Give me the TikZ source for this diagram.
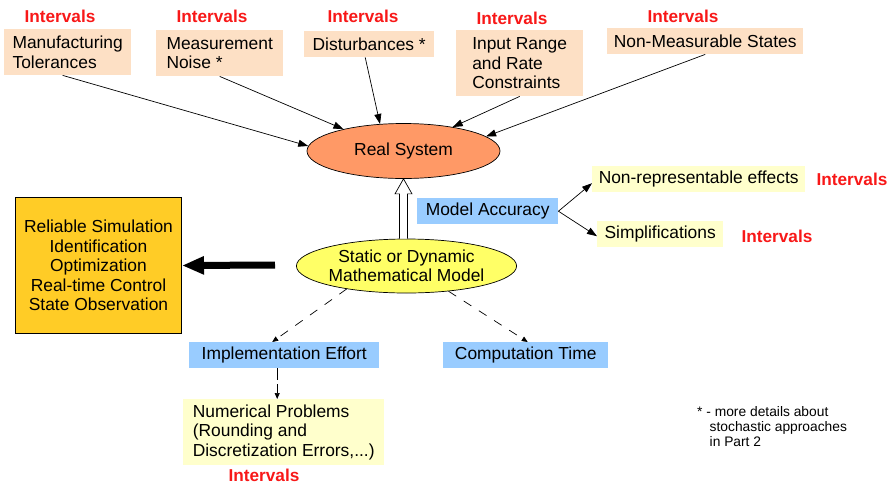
\documentclass[tikz,border=0pt]{standalone}
\usepackage{fontspec}
\setmainfont{Liberation Sans}
\usetikzlibrary{arrows.meta,shapes.geometric,calc}
\definecolor{peach}{HTML}{FDE0C5}
\definecolor{lyellow}{HTML}{FFFFCC}
\definecolor{lblue}{HTML}{99CCFF}
\definecolor{salmon}{HTML}{FF9966}
\definecolor{yell}{HTML}{FFFF66}
\definecolor{gold}{HTML}{FFCC26}
\definecolor{ired}{HTML}{F81818}
\begin{document}
\begin{tikzpicture}[x=1pt,y=-1pt,
  font=\fontsize{17.4}{19.5}\selectfont,
  box/.style={rectangle, inner sep=0pt, anchor=north west, align=left},
  pbox/.style={box, fill=peach},
  ybox/.style={box, fill=lyellow},
  bbox/.style={box, fill=lblue},
  iv/.style={text=ired, font=\bfseries\fontsize{17.2}{19.5}\selectfont, inner sep=0pt},
  arr/.style={line width=0.7pt, -{Triangle[length=10pt,width=7pt]}},
  darr/.style={line width=0.7pt, dash pattern=on 9pt off 9pt, -{Triangle[length=6pt,width=5pt]}},
  ell/.style={ellipse, draw, line width=0.7pt, inner sep=0pt, align=center}
]
\useasboundingbox (0,0) rectangle (889,483);

% top boxes
\node[pbox, minimum width=127pt, minimum height=46pt] (mt) at (4,29) {Manufacturing\\Tolerances};
\node[pbox, minimum width=127pt, minimum height=46pt] (mn) at (156,30) {Measurement\\Noise *};
\node[pbox, minimum width=130pt, minimum height=26pt] (ds) at (304,31) {Disturbances *};
\node[pbox, minimum width=127pt, minimum height=66pt] (ir) at (456,30) {Input Range\\and Rate\\Constraints};
\node[pbox, minimum width=196pt, minimum height=26pt] (nm) at (607,28) {Non-Measurable States};

\node[iv] (i1) at (60,16) {Intervals};
\node[iv] (i2) at (212,16) {Intervals};
\node[iv] (i3) at (363,16) {Intervals};
\node[iv] (i4) at (512,18) {Intervals};
\node[iv] (i5) at (683,16) {Intervals};

% ellipses
\node[ell, fill=salmon, minimum width=193pt, minimum height=55pt] (rs) at (403.5,151) {Real System};
\node[ell, fill=yell, minimum width=199pt, minimum height=54pt] (sm) at (406.5,266) {Static or Dynamic\\Mathematical Model};

% model accuracy
\node[bbox, minimum width=141pt, minimum height=26pt] (ma) at (417,198) {Model Accuracy};
\node[ybox, minimum width=213pt, minimum height=26pt] (nr) at (592,166) {Non-representable effects};
\node[ybox, minimum width=126pt, minimum height=26pt] (sp) at (597,221) {Simplifications};
\node[iv] (i6) at (852,179) {Intervals};
\node[iv] (i7) at (777,236) {Intervals};

% applications
\node[draw, fill=gold, line width=1pt, anchor=north west, align=center, minimum width=166pt, minimum height=136pt, inner sep=0pt] (ap) at (15,197)
  {Reliable Simulation\\Identification\\Optimization\\Real-time Control\\State Observation};

% lower boxes
\node[bbox, minimum width=190pt, minimum height=26pt] (ie) at (189,342) {Implementation Effort};
\node[bbox, minimum width=165pt, minimum height=26pt] (ct) at (443,342) {Computation Time};
\node[ybox, minimum width=201pt, minimum height=66pt] (np) at (183,399) {Numerical Problems\\(Rounding and\\Discretization Errors,...)};
\node[iv] (i8) at (264,475.5) {Intervals};

% footnote
\node[anchor=north west, align=left, inner sep=0pt, font=\fontsize{13.8}{15}\selectfont] (fn) at (697,406)
  {* - more details about\\\hspace*{12.5pt}stochastic approaches\\\hspace*{12.5pt}in Part 2};

% arrows into real system
\draw[arr] ([xshift=-5pt]mt.south) -- (rs.177);
\draw[arr] (mn.south) -- (rs.160);
\draw[arr] ([xshift=-4pt]ds.south) -- (rs.131);
\draw[arr] (ir.south) -- (rs.26);
\draw[arr] (nm.south) -- (rs.10);

% hollow arrow
\draw[fill=white, line width=0.7pt] let \p1=(rs.south), \p2=(sm.north) in
  (\x1-4pt,\y2) -- (\x1-4pt,\y1-15pt) -- (\x1-8.5pt,\y1-15pt) -- (\x1,\y1)
  -- (\x1+8.5pt,\y1-15pt) -- (\x1+4pt,\y1-15pt) -- (\x1+4pt,\y2);

% model accuracy arrows
\draw[arr] (ma.east) -- ([yshift=-4pt]nr.west);
\draw[arr] (ma.east) -- ([yshift=-2pt]sp.west);

% thick arrow
\coordinate (ts) at (275,265);
\draw[line width=7pt, -{Triangle[length=22pt,width=17pt]}] (ts) -- (ap.east);

% dashed arrows
\draw[darr] (sm.201) -- ([xshift=-12pt]ie.north);
\draw[darr] (sm.329) -- ([xshift=2pt]ct.north);
\draw[darr, dash pattern=on 12pt off 4pt] ([xshift=-7pt]ie.south) -- ([xshift=-6.5pt]np.north);
\end{tikzpicture}
\end{document}
